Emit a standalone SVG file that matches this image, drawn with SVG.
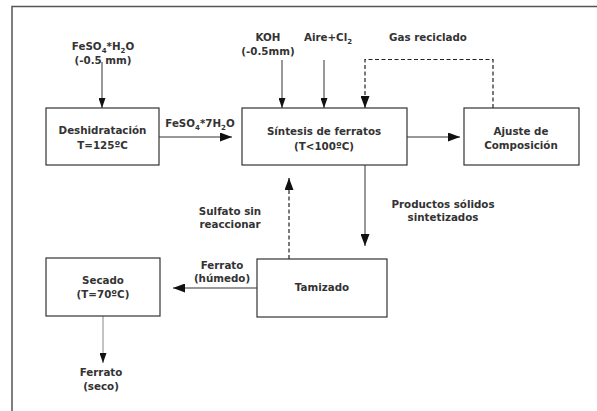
<svg xmlns="http://www.w3.org/2000/svg" width="597" height="411" viewBox="0 0 597 411">
<style>
.box{fill:#fff;stroke:#333;stroke-width:1.2}
.t{font-family:"DejaVu Sans",Verdana,sans-serif;font-weight:bold;font-size:10.3px;fill:#333;text-anchor:middle}
.l{fill:none;stroke:#333;stroke-width:1}
.d{fill:none;stroke:#222;stroke-width:1.2;stroke-dasharray:4,2.5}
.s{font-size:7px}
</style>
<defs>
<marker id="a" markerUnits="userSpaceOnUse" markerWidth="12" markerHeight="9" refX="12" refY="4.5" orient="auto"><path d="M0,0 L12,4.5 L0,9 z" fill="#111"/></marker>
<marker id="b" markerUnits="userSpaceOnUse" markerWidth="10" markerHeight="7" refX="10" refY="3.5" orient="auto"><path d="M0,0 L10,3.5 L0,7 z" fill="#111"/></marker>
</defs>
<rect width="597" height="411" fill="#fff"/>
<path d="M12,411 V6.5 H597" fill="none" stroke="#555" stroke-width="1.5"/>
<g id="connectors">
<line class="l" x1="102" y1="62" x2="102" y2="108" marker-end="url(#b)"/>
<line class="l" x1="282" y1="60" x2="282" y2="108" marker-end="url(#b)"/>
<line class="l" x1="324" y1="60" x2="324" y2="108" marker-end="url(#b)"/>
<path class="d" d="M493,108 V59.5 H365 V108" marker-end="url(#a)"/>
<line class="l" x1="159" y1="137" x2="232" y2="137" marker-end="url(#a)"/>
<line class="l" x1="407" y1="137" x2="460" y2="137" marker-end="url(#a)"/>
<line class="l" x1="365" y1="165" x2="365" y2="246" stroke-width="1.3" marker-end="url(#a)"/>
<line class="d" x1="289" y1="259" x2="289" y2="178" marker-end="url(#a)"/>
<line class="l" x1="257" y1="288" x2="173" y2="288" marker-end="url(#a)"/>
<line x1="103" y1="316" x2="103" y2="363" stroke="#888" stroke-width="1" marker-end="url(#b)"/>
</g>
<g id="labels">
<text class="t" x="103" y="50">FeSO<tspan class="s" dy="3">4</tspan><tspan dy="-3">*H</tspan><tspan class="s" dy="3">2</tspan><tspan dy="-3">O</tspan></text>
<text class="t" x="103" y="64">(-0.5 mm)</text>
<text class="t" x="268" y="41">KOH</text>
<text class="t" x="268" y="55">(-0.5mm)</text>
<text class="t" x="328" y="41">Aire+Cl<tspan class="s" dy="3">2</tspan></text>
<text class="t" x="428" y="41">Gas reciclado</text>
<text class="t" x="200" y="127">FeSO<tspan class="s" dy="3">4</tspan><tspan dy="-3">*7H</tspan><tspan class="s" dy="3">2</tspan><tspan dy="-3">O</tspan></text>
<text class="t" x="443" y="208">Productos sólidos</text>
<text class="t" x="443" y="221">sintetizados</text>
<text class="t" x="230" y="215">Sulfato sin</text>
<text class="t" x="230" y="228">reaccionar</text>
<text class="t" x="222" y="269">Ferrato</text>
<text class="t" x="222" y="282">(húmedo)</text>
<text class="t" x="101" y="376">Ferrato</text>
<text class="t" x="101" y="390">(seco)</text>
</g>
<g id="deshidratacion">
<rect class="box" x="46" y="108" width="113" height="57"/>
<text class="t" x="102.5" y="134">Deshidratación</text>
<text class="t" x="102.5" y="149">T=125ºC</text>
</g>
<g id="sintesis">
<rect class="box" x="242" y="108" width="165" height="57"/>
<text class="t" x="324" y="135">Síntesis de ferratos</text>
<text class="t" x="324" y="150">(T&lt;100ºC)</text>
</g>
<g id="ajuste">
<rect class="box" x="464" y="108" width="115" height="57"/>
<text class="t" x="521" y="135">Ajuste de</text>
<text class="t" x="521" y="149">Composición</text>
</g>
<g id="tamizado">
<rect class="box" x="257" y="259" width="130" height="58"/>
<text class="t" x="322" y="291">Tamizado</text>
</g>
<g id="secado">
<rect class="box" x="46" y="258" width="114" height="58"/>
<text class="t" x="103" y="284">Secado</text>
<text class="t" x="103" y="298">(T=70ºC)</text>
</g>
</svg>
